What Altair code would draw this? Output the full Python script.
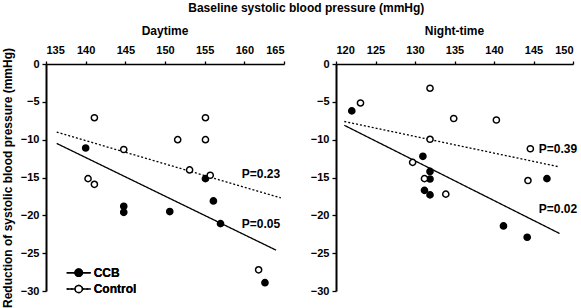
import altair as alt
import pandas as pd

# ---------------- data ----------------
# Daytime panel
day_ccb_x = [140.0, 144.8, 144.8, 150.6, 155.1, 156.1, 157.0, 162.6]
day_ccb_y = [-11.1, -18.8, -19.6, -19.5, -15.15, -18.1, -21.1, -28.9]
day_ctl_x = [141.1, 151.6, 155.1, 155.1, 144.8, 140.3, 141.1, 153.1, 155.7, 161.8]
day_ctl_y = [-7.1, -10.0, -7.1, -10.0, -11.3, -15.15, -15.9, -14.0, -14.7, -27.2]
day_ccb_fit_x = [136.35, 164.0]
day_ccb_fit_y = [-10.5, -24.6]
day_ctl_fit_x = [136.35, 164.6]
day_ctl_fit_y = [-9.0, -17.7]
day_p_x = [162.1, 162.1]
day_p_y = [-14.6, -21.1]
day_p_text = ["P=0.23", "P=0.05"]

# Night-time panel
night_ccb_x = [122.0, 131.0, 131.9, 131.9, 131.2, 131.9, 146.7, 141.2, 144.2]
night_ccb_y = [-6.2, -12.2, -14.2, -15.2, -16.7, -17.3, -15.15, -21.4, -22.9]
night_ctl_x = [131.9, 123.1, 134.9, 140.3, 131.9, 144.6, 129.7, 131.2, 133.9, 144.3]
night_ctl_y = [-3.2, -5.15, -7.2, -7.4, -9.95, -11.2, -13.0, -15.15, -17.2, -15.4]
night_ccb_fit_x = [121.05, 148.3]
night_ccb_fit_y = [-8.1, -22.4]
night_ctl_fit_x = [121.05, 148.3]
night_ctl_fit_y = [-7.6, -13.6]
night_p_x = [148.1, 148.1]
night_p_y = [-11.2, -19.1]
night_p_text = ["P=0.39", "P=0.02"]

groups = ["CCB", "Control"]
day_ticks = [135, 140, 145, 150, 155, 160, 165]
night_ticks = [120, 125, 130, 135, 140, 145, 150]
y_ticks = [0, -5, -10, -15, -20, -25, -30]

FONT = "Liberation Sans"
LEGEND_SYMBOL = ("M-2.4,0L-0.72,0M0.72,0L2.4,0M0.72,0A0.72,0.72,0,1,1,-0.72,0"
                 "A0.72,0.72,0,1,1,0.72,0Z")


def panel(title, xdom, xticks, ccb_x, ccb_y, ctl_x, ctl_y,
          ccb_fx, ccb_fy, ctl_fx, ctl_fy, p_x, p_y, p_t, left, width):
    pts = pd.DataFrame({
        "x": ccb_x + ctl_x,
        "y": ccb_y + ctl_y,
        "group": ["CCB"] * len(ccb_x) + ["Control"] * len(ctl_x),
    })
    fits = pd.DataFrame({
        "x": ccb_fx + ctl_fx,
        "y": ccb_fy + ctl_fy,
        "group": ["CCB"] * len(ccb_fx) + ["Control"] * len(ctl_fx),
    })
    ptxt = pd.DataFrame({"x": p_x, "y": p_y, "t": p_t})

    xenc = alt.X("x:Q", scale=alt.Scale(domain=xdom, nice=False, zero=False),
                 axis=alt.Axis(orient="top", values=xticks, title=None,
                               domainWidth=1.5, tickSize=3, labelPadding=6))
    yaxis = alt.Axis(values=y_ticks, tickSize=4, labelPadding=3, domainWidth=2,
                     title="Reduction of systolic blood pressure (mmHg)" if left else None,
                     titleFontSize=12, titlePadding=6)
    yenc = alt.Y("y:Q", scale=alt.Scale(domain=[-30, 0], nice=False), axis=yaxis)

    if left:
        leg = alt.Legend(title=None, orient="none", legendX=26.7, legendY=202.7,
                         symbolType=LEGEND_SYMBOL, symbolSize=100,
                         symbolStrokeColor="black", symbolStrokeWidth=1.5,
                         labelFontSize=12, labelFont=FONT, labelFontWeight="bold",
                         labelOffset=9, rowPadding=2.3, padding=0)
    else:
        leg = None

    fill_scale = alt.Scale(domain=groups, range=["black", "white"])
    dash_scale = alt.Scale(domain=groups, range=[[1, 0], [2, 2]])

    lines = alt.Chart(fits).mark_line(stroke="black", strokeWidth=1.3).encode(
        x=xenc, y=yenc,
        strokeDash=alt.StrokeDash("group:N", scale=dash_scale, legend=leg),
    )
    points = alt.Chart(pts).mark_point(shape="circle", size=38, stroke="black",
                                       strokeWidth=1.5, opacity=1).encode(
        x=xenc, y=yenc,
        fill=alt.Fill("group:N", scale=fill_scale, legend=leg),
    )
    text = alt.Chart(ptxt).mark_text(font=FONT, fontSize=12, fontWeight="bold",
                                     color="black").encode(x=xenc, y=yenc, text="t:N")
    return alt.layer(lines, points, text).properties(
        width=width, height=227,
        title=alt.TitleParams(title, fontSize=12, font=FONT, fontWeight="bold",
                              offset=6, anchor="middle"),
    ).resolve_scale(fill="independent", strokeDash="independent")


left = panel("Daytime", [135, 165], day_ticks, day_ccb_x, day_ccb_y, day_ctl_x, day_ctl_y,
             day_ccb_fit_x, day_ccb_fit_y, day_ctl_fit_x, day_ctl_fit_y,
             day_p_x, day_p_y, day_p_text, True, 238)
right = panel("Night-time", [120, 150], night_ticks, night_ccb_x, night_ccb_y,
              night_ctl_x, night_ctl_y, night_ccb_fit_x, night_ccb_fit_y,
              night_ctl_fit_x, night_ctl_fit_y, night_p_x, night_p_y, night_p_text,
              False, 237)

chart = alt.hconcat(left, right, spacing=52, bounds="flush").properties(
    title=alt.TitleParams("Baseline systolic blood pressure (mmHg)", fontSize=12,
                          font=FONT, fontWeight="bold", anchor="middle", offset=10,
                          dx=17),
    padding={"left": 1, "top": 2, "right": 0, "bottom": 0},
).resolve_scale(fill="independent", strokeDash="independent", x="independent",
                y="independent").configure_axis(
    labelFont=FONT, labelFontWeight="bold", labelFontSize=11, labelColor="black",
    titleFont=FONT, titleFontWeight="bold", titleColor="black",
    domainColor="black", tickColor="black", grid=False, tickWidth=1.3,
).configure_view(stroke=None).configure_title(color="black")

chart.save("out.html", embed_options={"renderer": "svg", "actions": False})
